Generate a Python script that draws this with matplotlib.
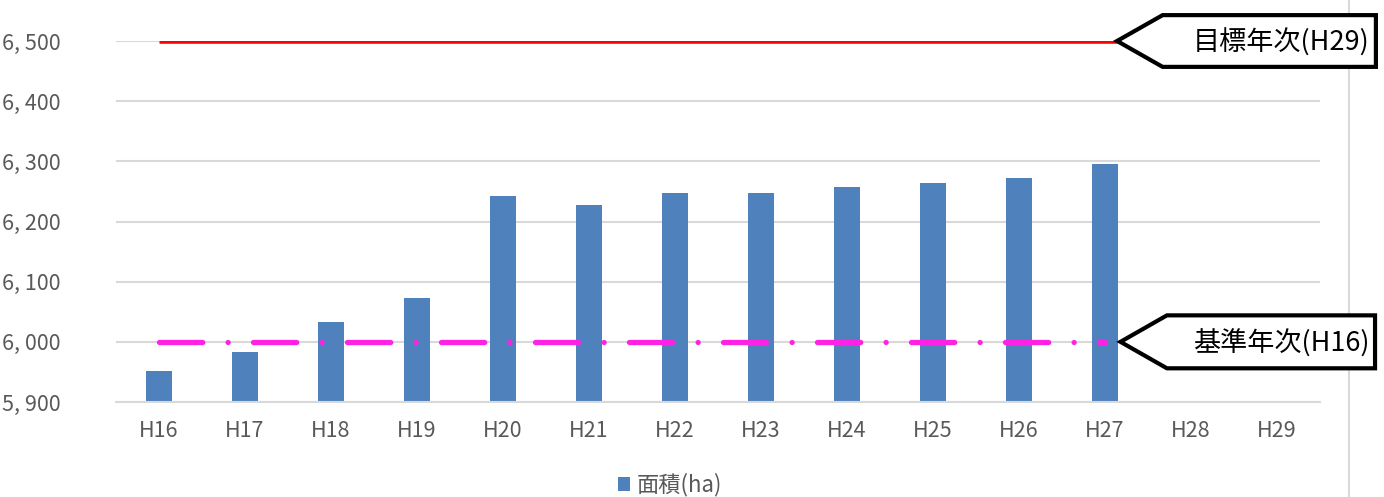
import matplotlib.pyplot as plt
import matplotlib.lines as mlines
from matplotlib.patches import Polygon
import numpy as np

plt.rcParams['font.family'] = ['Noto Sans CJK JP', 'DejaVu Sans']

# data
years = ['H16', 'H17', 'H18', 'H19', 'H20', 'H21', 'H22', 'H23',
         'H24', 'H25', 'H26', 'H27', 'H28', 'H29']
area = [5951, 5983, 6033, 6073, 6242, 6227, 6247, 6247,
        6257, 6264, 6272, 6295, np.nan, np.nan]
target_value = 6500
base_value = 6000
yticks = [5900, 6000, 6100, 6200, 6300, 6400, 6500]

W, H = 1384, 497
fig = plt.figure(figsize=(W / 100, H / 100), dpi=100)
ax = fig.add_axes([116 / W, (H - 402) / H, (1320 - 116) / W, (402 - 41) / H])

x = np.arange(len(years))
ax.bar(x, area, width=0.31, color='#4f81bd', zorder=2, label='面積(ha)')

# target / base lines
ax.plot([0, 11.14], [target_value, target_value], color='#ff0000', lw=3.3,
        solid_capstyle='butt', zorder=3)
ax.plot([0, 11], [base_value, base_value], color='#ff22e6', lw=3.8,
        dashes=(8.2, 4.8, 0.01, 4.8), dash_capstyle='round', zorder=3)

ax.set_xlim(-0.5, len(years) - 0.5)
ax.set_ylim(5900, 6500)
ax.set_yticks(yticks)
ax.set_yticklabels([f'{v // 1000}, {v % 1000:03d}' for v in yticks])
ax.set_xticks(x)
ax.set_xticklabels(years)
ax.yaxis.grid(True, color='#d9d9d9', lw=1.5, zorder=0)
ax.tick_params(length=0, colors='#595959', labelsize=15.5)
ax.tick_params(axis='y', pad=40)
ax.tick_params(axis='x', pad=13)
for s in ['top', 'right', 'left']:
    ax.spines[s].set_visible(False)
ax.spines['bottom'].set_color('#d9d9d9')
ax.spines['bottom'].set_linewidth(1.5)
ax.set_axisbelow(True)


def callout(tip_x, tip_y, body_x0, body_x1, half_h, text):
    pts = [(tip_x, tip_y), (body_x0, tip_y + half_h), (body_x1, tip_y + half_h),
           (body_x1, tip_y - half_h), (body_x0, tip_y - half_h)]
    ax.add_patch(Polygon(pts, closed=True, facecolor='white', edgecolor='black',
                         lw=3, clip_on=False, zorder=5, joinstyle='miter'))
    ax.text(body_x1 - 0.07, tip_y - 3, text, ha='right', va='center',
            fontsize=19.5, color='black', clip_on=False, zorder=6)


callout(11.14, target_value, 11.67, 14.15, 43, '目標年次(H29)')
callout(11.18, base_value, 11.72, 14.14, 44, '基準年次(H16)')

# chart border line on the right (behind the callouts)
fig.add_artist(mlines.Line2D([1349 / W, 1349 / W], [0, 1], color='#d9d9d9',
                             lw=1.5, transform=fig.transFigure, zorder=-1))

leg = fig.legend(loc='lower center', bbox_to_anchor=(0.484, -0.04), frameon=False,
                 fontsize=16, handlelength=0.55, handleheight=0.55,
                 handletextpad=0.3)
for t in leg.get_texts():
    t.set_color('#595959')

fig.savefig('out.png', dpi=100)
